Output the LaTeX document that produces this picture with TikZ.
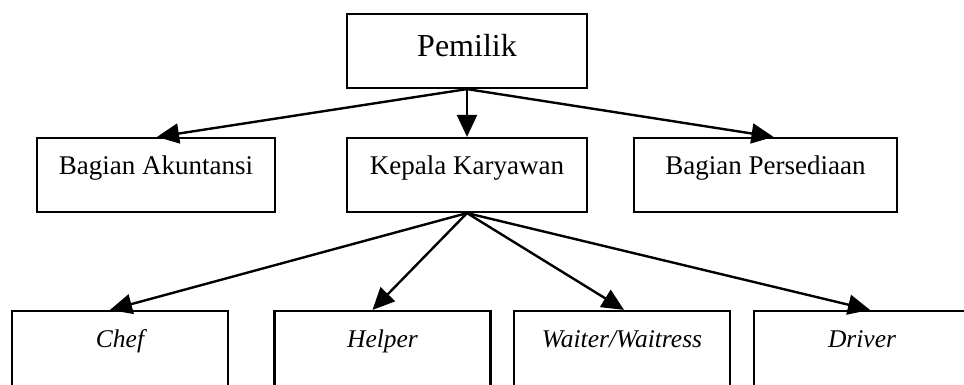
\documentclass[tikz,border=0pt]{standalone}
\usepackage{fontspec}
\setmainfont{Liberation Serif}
\usepackage{tikz}
\usetikzlibrary{arrows.meta, positioning, calc}

\tikzset{
    orgbox/.style={draw=black, fill=white, line width=2.2pt, inner sep=0pt, align=center},
    toprow/.style={orgbox, minimum width=240pt, text height=43pt, text depth=31pt, font=\fontsize{32}{38}\selectfont},
    midrow/.style={orgbox, text height=37pt, text depth=37pt, font=\fontsize{27}{32}\selectfont},
    lowrow/.style={orgbox, minimum width=216pt, text height=37pt, text depth=63pt, font=\fontsize{25.5}{30}\selectfont\itshape},
    orgarrow/.style={line width=2.4pt, -{Triangle[length=22pt, width=20pt]}}
}

\begin{document}
\begin{tikzpicture}[x=1pt, y=1pt]
    \clip (0,0) rectangle (964,385);
    \fill[white] (0,0) rectangle (964,385);

    % pimpinan
    \node[toprow] (pemilik) at (467,334) {Pemilik};

    % bagian
    \node[midrow, minimum width=238pt] (akuntansi) at (156,210) {Bagian Akuntansi};
    \node[midrow, minimum width=240pt] (kepala) at (467,210) {Kepala Karyawan};
    \node[midrow, minimum width=263pt] (persediaan) at (765.5,210) {Bagian Persediaan};

    % karyawan
    \node[lowrow] (chef) at (120,24) {Chef};
    \node[lowrow] (helper) at (382.5,24) {Helper};
    \node[lowrow] (waiter) at (622,24) {Waiter/Waitress};
    \node[lowrow] (driver) at (862,24) {Driver};

    \draw[orgarrow] (pemilik.south) -- ([xshift=1pt]akuntansi.north);
    \draw[orgarrow] (pemilik.south) -- (kepala.north);
    \draw[orgarrow] (pemilik.south) -- ([xshift=8pt]persediaan.north);

    \draw[orgarrow] (kepala.south) -- ([xshift=-10pt]chef.north);
    \draw[orgarrow] (kepala.south) -- ([xshift=-10pt]helper.north);
    \draw[orgarrow] (kepala.south) -- ([xshift=2pt]waiter.north);
    \draw[orgarrow] (kepala.south) -- ([xshift=8pt]driver.north);
\end{tikzpicture}
\end{document}
